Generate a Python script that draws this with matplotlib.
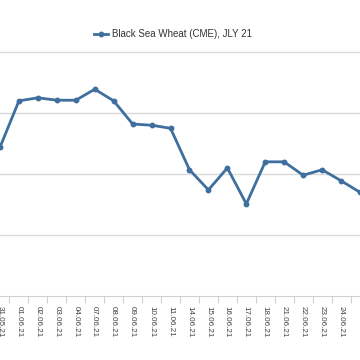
import matplotlib.pyplot as plt
import numpy as np

dates = ["31.05.21", "01.06.21", "02.06.21", "03.06.21", "04.06.21", "07.06.21",
         "08.06.21", "09.06.21", "10.06.21", "11.06.21", "14.06.21", "15.06.21",
         "16.06.21", "17.06.21", "18.06.21", "21.06.21", "22.06.21", "23.06.21",
         "24.06.21", "25.06.21"]
prices = [244.4, 252.0, 252.5, 252.1, 252.1, 253.9, 252.0, 248.2, 248.0, 247.5,
          240.7, 237.4, 241.0, 235.1, 242.0, 242.0, 239.8, 240.7, 238.9, 237.0]
series_name = "Black Sea Wheat (CME), JLY 21"

plt.rcParams['font.family'] = ['Liberation Sans', 'DejaVu Sans']

fig = plt.figure(figsize=(3.6, 3.6), dpi=100)
# the chart is cropped on both sides, so the axes run past the figure edge
ax = fig.add_axes([0, 1 - 296 / 360, 1, (296 - 49) / 360])

x = np.arange(len(dates))
line, = ax.plot(x, prices, color="#3f6f9f", lw=2.0, marker="o", ms=3.2,
                label=series_name, clip_on=False)

ax.set_xlim(0.079, 18.976)
ax.set_ylim(220, 260.5)
ax.set_yticks([230, 240, 250, 260])
ax.yaxis.grid(True, color="#d9d9d9", lw=1)
ax.set_axisbelow(True)
ax.tick_params(axis="y", left=False, labelleft=False)

ax.set_xticks(x)
ax.set_xticklabels(dates, rotation=270, fontsize=5.8, color="#404040")
ax.set_xticks(x[:-1] + 0.5, minor=True)
ax.tick_params(axis="x", which="major", length=0, pad=7)
ax.tick_params(axis="x", which="minor", length=5, color="#d0d0d0", width=0.8)

for s in ["top", "left", "right"]:
    ax.spines[s].set_visible(False)
ax.spines["bottom"].set_color("#d0d0d0")

fig.legend(handles=[line], loc="center", bbox_to_anchor=(0.48, 1 - 34 / 360),
           frameon=False, fontsize=7, handlelength=1.4, handletextpad=0.4,
           labelcolor="#333333")

fig.savefig("out.png", dpi=100)
